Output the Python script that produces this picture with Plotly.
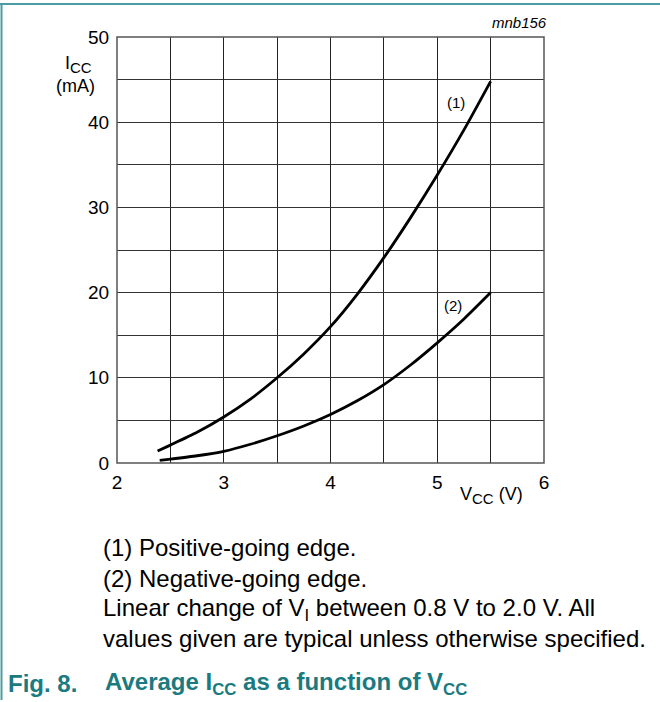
import plotly.graph_objects as go

# Data
vcc_1 = [2.38, 2.5, 2.75, 3.0, 3.25, 3.5, 3.75, 4.0, 4.25, 4.5, 4.75, 5.0, 5.25, 5.5]
icc_1 = [1.4, 2.1, 3.6, 5.4, 7.5, 10.0, 12.8, 16.0, 19.8, 24.1, 28.8, 33.8, 39.1, 44.8]
vcc_2 = [2.4, 2.5, 2.75, 3.0, 3.25, 3.5, 3.75, 4.0, 4.25, 4.5, 4.75, 5.0, 5.25, 5.5]
icc_2 = [0.3, 0.45, 0.85, 1.37, 2.2, 3.2, 4.35, 5.7, 7.3, 9.2, 11.5, 14.1, 16.9, 20.0]
x_ticks = [2, 3, 4, 5, 6]
y_ticks = [0, 10, 20, 30, 40, 50]
curve_labels = ["(1)", "(2)"]
label_pos = [(5.18, 42.3), (5.15, 18.5)]

W, H = 660, 702
L, R, T, B = 117, 544, 37, 463
FONT = "Liberation Sans, Arial, sans-serif"
TEAL = "#1B7A80"

def px(x):
    return (x - L) / (R - L)

def py(y):
    return (B - y) / (B - T)

fig = go.Figure()
for xs, ys in [(vcc_1, icc_1), (vcc_2, icc_2)]:
    fig.add_trace(go.Scatter(x=xs, y=ys, mode="lines",
                             line=dict(color="black", width=2.8, shape="spline", smoothing=0.6),
                             showlegend=False, hoverinfo="skip"))

annotations = []
for lab, (lx, ly) in zip(curve_labels, label_pos):
    annotations.append(dict(x=lx, y=ly, xref="x", yref="y", text=lab, showarrow=False,
                            xanchor="center", yanchor="middle",
                            font=dict(family=FONT, size=15, color="black")))

def ann(x, y, text, size, color="black", xanchor="center"):
    annotations.append(dict(x=px(x), y=py(y), xref="paper", yref="paper", showarrow=False,
                            xanchor=xanchor, yanchor="middle", text=text,
                            font=dict(family=FONT, size=size, color=color)))

SUB = "<sub><span style='font-size:15px'>CC</span></sub>"
# axis titles
ann(78, 64, "I" + SUB, 18)
ann(75, 86, "(mA)", 18)
ann(491, 495, "V" + SUB + " (V)", 18)
ann(549, 22, "<i>mnb156</i>", 15, xanchor="right")

notes = [
    (547, "(1) Positive-going edge."),
    (578, "(2) Negative-going edge."),
    (609, "Linear change of V<sub>I</sub> between 0.8 V to 2.0 V. All"),
    (638, "values given are typical unless otherwise specified."),
]
for yy, txt in notes:
    ann(101, yy, txt, 24, xanchor="left")
ann(6, 683, "<b>Fig. 8.</b>", 24, color=TEAL, xanchor="left")
ann(103, 683, "<b>Average I<sub>CC</sub> as a function of V<sub>CC</sub></b>", 24,
    color=TEAL, xanchor="left")

shapes = [
    dict(type="line", xref="paper", yref="paper", x0=px(0), x1=px(660), y0=py(4), y1=py(4),
         line=dict(color="#4A9DA2", width=2)),
    dict(type="line", xref="paper", yref="paper", x0=px(1.5), x1=px(1.5), y0=py(4), y1=py(700),
         line=dict(color="#4A9DA2", width=2)),
    dict(type="rect", xref="paper", yref="paper", x0=0, x1=1, y0=0, y1=1,
         line=dict(color="#555555", width=1.5)),
]

fig.update_layout(
    width=W, height=H,
    margin=dict(l=L, r=W - R, t=T, b=H - B, autoexpand=False),
    paper_bgcolor="white", plot_bgcolor="white",
    annotations=annotations, shapes=shapes,
    xaxis=dict(range=[2, 6], tickvals=x_ticks, showgrid=True, gridcolor="#222222", gridwidth=1,
               minor=dict(dtick=0.5, showgrid=True, gridcolor="#222222", gridwidth=1),
               zeroline=False, showline=False, ticks="outside", ticklen=2,
               tickcolor="rgba(0,0,0,0)",
               tickfont=dict(family=FONT, size=19, color="black")),
    yaxis=dict(range=[0, 50], tickvals=y_ticks, showgrid=True, gridcolor="#333333", gridwidth=1,
               minor=dict(dtick=5, showgrid=True, gridcolor="#333333", gridwidth=1),
               zeroline=False, showline=False, ticks="outside", ticklen=3,
               tickcolor="rgba(0,0,0,0)",
               tickfont=dict(family=FONT, size=19, color="black")),
    font=dict(family=FONT),
)

fig.write_html("out.html", config={"displayModeBar": False},
               post_script="document.body.style.margin='0';document.body.style.padding='0';")
